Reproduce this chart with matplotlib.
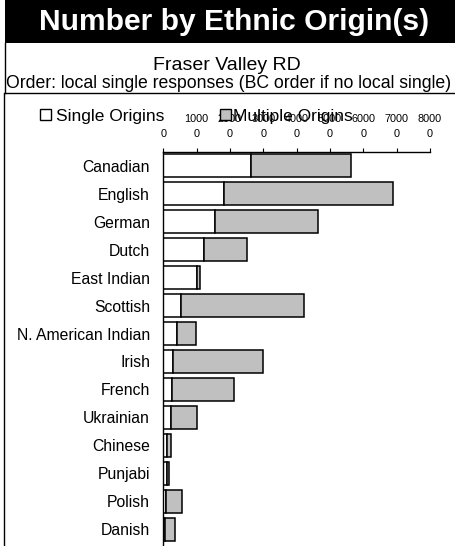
import matplotlib
matplotlib.use("Agg")
import matplotlib.pyplot as plt
from matplotlib.patches import Patch, Rectangle
from matplotlib.lines import Line2D

plt.rcParams['font.family'] = ['Liberation Sans', 'DejaVu Sans']

categories = ["Canadian", "English", "German", "Dutch", "East Indian", "Scottish",
              "N. American Indian", "Irish", "French", "Ukrainian", "Chinese",
              "Punjabi", "Polish", "Danish"]
single_origins = [26200, 18100, 15600, 12100, 10200, 5300, 4200, 2800, 2500, 2200,
                  1200, 1000, 800, 600]
multiple_origins = [30100, 50700, 30700, 13000, 800, 36800, 5500, 27100, 18700, 8000,
                    1000, 800, 4900, 2800]
tick_values = [0, 10000, 20000, 30000, 40000, 50000, 60000, 70000, 80000]
tick_labels = ["0", "1000\n0", "2000\n0", "3000\n0", "4000\n0", "5000\n0",
               "6000\n0", "7000\n0", "8000\n0"]

W, H = 456, 546
fig = plt.figure(figsize=(W / 100, H / 100), dpi=100)

def fx(px):
    return px / W

def fy(py):
    return 1 - py / H

# Title band
fig.patches.append(Rectangle((fx(5), fy(43)), fx(W) - fx(5), fy(0) - fy(43),
                             transform=fig.transFigure, facecolor='black',
                             edgecolor='none', zorder=0))
fig.text(fx(234.5), fy(22), "Number by Ethnic Origin(s)", color='white',
         fontsize=21.6, fontweight='bold', ha='center', va='center')
fig.text(fx(227), fy(65), "Fraser Valley RD", fontsize=14, ha='center', va='center')
fig.text(fx(228.5), fy(84), "Order: local single responses (BC order if no local single)",
         fontsize=12.7, ha='center', va='center')

# Box borders
fig.lines.append(Line2D([fx(5), fx(5)], [fy(43), fy(92.5)], transform=fig.transFigure,
                        color='black', lw=1))
fig.lines.append(Line2D([fx(5), fx(W)], [fy(92.5), fy(92.5)], transform=fig.transFigure,
                        color='black', lw=1))
fig.lines.append(Line2D([fx(4.5), fx(4.5)], [fy(92.5), fy(H)], transform=fig.transFigure,
                        color='black', lw=1))

ax = fig.add_axes([fx(163.3), 0, fx(430) - fx(163.3), fy(151.5)])
y = list(range(len(categories)))
ax.barh(y, single_origins, height=0.83, color='white', edgecolor='black', lw=1.1)
ax.barh(y, multiple_origins, left=single_origins, height=0.83, color='#C0C0C0',
        edgecolor='black', lw=1.1)
ax.set_xlim(0, 80000)
ax.set_ylim(13.6, -0.51)
ax.set_yticks(y)
ax.set_yticklabels(categories, fontsize=11.3)
ax.tick_params(axis='y', length=0, pad=9.5)
ax.xaxis.tick_top()
ax.set_xticks(tick_values)
ax.set_xticklabels(tick_labels, fontsize=7.8, linespacing=1.62)
ax.tick_params(axis='x', direction='out', length=3, width=0.8, pad=6)
for s in ['right', 'bottom']:
    ax.spines[s].set_visible(False)
ax.spines['left'].set_linewidth(1)
ax.spines['top'].set_linewidth(1)

# Legends
leg1 = fig.legend(handles=[Patch(facecolor='white', edgecolor='black', lw=1)],
                  labels=["Single Origins"], loc='center left',
                  bbox_to_anchor=(fx(40), fy(116)), frameon=False, fontsize=12.5,
                  handlelength=0.62, handleheight=0.62, handletextpad=0.3,
                  borderpad=0, borderaxespad=0)
leg2 = fig.legend(handles=[Patch(facecolor='#C0C0C0', edgecolor='black', lw=1)],
                  labels=["Multiple Origins"], loc='center left',
                  bbox_to_anchor=(fx(220), fy(116)), frameon=False, fontsize=12.5,
                  handlelength=0.62, handleheight=0.62, handletextpad=0.15,
                  borderpad=0, borderaxespad=0)

fig.savefig("out.png", dpi=100)
